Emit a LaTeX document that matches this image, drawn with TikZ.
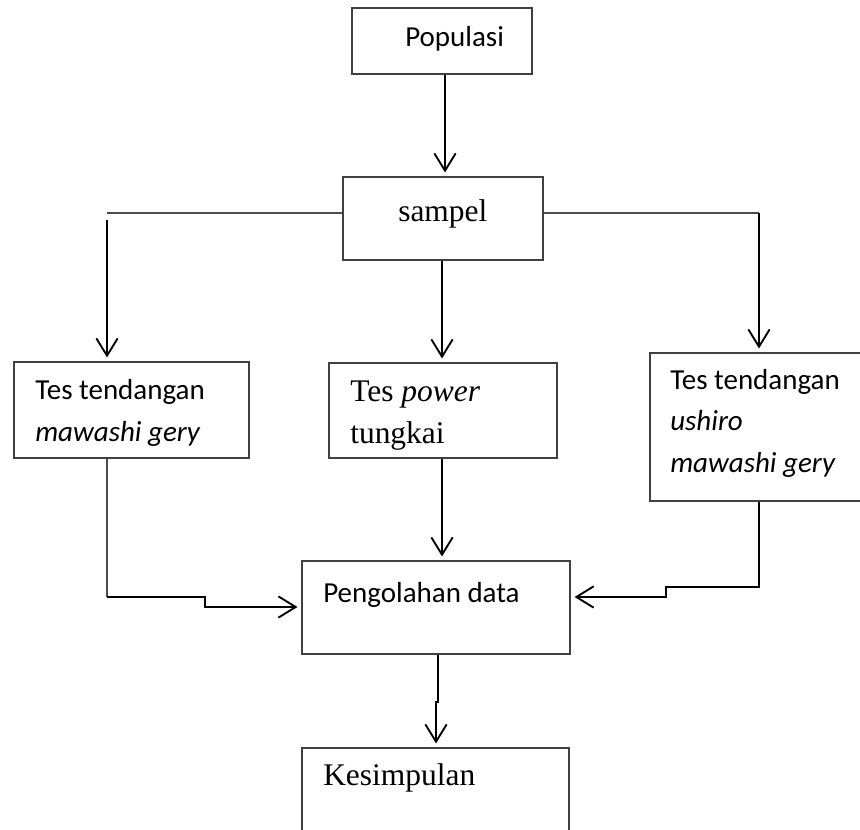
\documentclass[tikz,border=0pt]{standalone}
\usepackage{fontspec}
\setmainfont{Liberation Serif}
\newfontfamily\calibri{Carlito}
\usetikzlibrary{arrows.meta,fit}
\begin{document}
\begin{tikzpicture}[x=0.75pt,y=-0.75pt,
  box/.style={draw=black!75,line width=0.8pt,inner sep=0pt},
  sanstxt/.style={font=\calibri\fontsize{21.75pt}{30.8pt}\selectfont,anchor=base west,inner sep=0pt},
  seriftxt/.style={font=\fontsize{23.6pt}{30.8pt}\selectfont,anchor=base west,inner sep=0pt},
  arr/.style={line width=1.4pt,-{Straight Barb[length=13pt,width=16pt,line width=1.4pt]},shorten >=3pt},
  thinln/.style={draw=black!70,line width=0.8pt},
  thickln/.style={line width=1.4pt}]
\useasboundingbox (0,0) rectangle (860,830);
\clip (0,0) rectangle (860,830);
% boxes
\node[box,fit={(352,8) (532,74)}] (pop) {};
\node[box,fit={(343,177) (543,260)}] (samp) {};
\node[box,fit={(14,362) (249,458)}] (left) {};
\node[box,fit={(329,363) (557,458)}] (mid) {};
\node[box,fit={(650,353) (890,501)}] (right) {};
\node[box,fit={(302,561) (570,654)}] (peng) {};
\node[box,fit={(302,748) (569,860)}] (kes) {};
% texts
\node[sanstxt] (tpop) at (405,47) {Populasi};
\node[seriftxt] (tsamp) at (398,222) {sampel};
\node[sanstxt] (tl1) at (35,400) {Tes tendangan};
\node[sanstxt] (tl2) at (35,441) {\itshape mawashi gery};
\node[seriftxt] (tm1) at (350,402) {Tes \textit{power}};
\node[seriftxt] (tm2) at (350,443) {tungkai};
\node[sanstxt] (tr1) at (670,390) {Tes tendangan};
\node[sanstxt] (tr2) at (670,431) {\itshape ushiro};
\node[sanstxt] (tr3) at (670,472) {\itshape mawashi gery};
\node[sanstxt] (tpeng) at (323,602) {Pengolahan data};
\node[seriftxt] (tkes) at (323,785) {Kesimpulan};
% connectors
\coordinate (pa) at (445,0);
\coordinate (ma) at (442,0);
\draw[arr] (pop.south -| pa) -- (samp.north -| pa);
\coordinate (bl) at (107,213);
\coordinate (blt) at (107,220);
\coordinate (br) at (759,213);
\draw[thinln] (samp.west |- bl) -- (bl);
\draw[thinln] (samp.east |- br) -- (br);
\draw[arr] (blt) -- (blt |- left.north);
\draw[arr] (br) -- (br |- right.north);
\draw[arr] (samp.south -| ma) -- (mid.north -| ma);
\draw[arr] (mid.south -| ma) -- (peng.north -| ma);
% left to pengolahan
\coordinate (lb) at (107,597);
\coordinate (lc) at (205,607);
\draw[thinln] (left.south -| lb) -- (lb);
\draw[arr] (lb) -- (lb -| lc) -- (lc) -- (peng.west |- lc);
% right to pengolahan
\coordinate (rb) at (759,587);
\coordinate (rc) at (666,597);
\draw[arr] (right.south -| rb) -- (rb) -- (rb -| rc) -- (rc) -- (peng.east |- rc);
% pengolahan to kesimpulan
\coordinate (pk) at (438,702);
\coordinate (pk2) at (436,702);
\draw[arr] (peng.south -| pk) -- (pk) -- (pk2) -- (kes.north -| pk2);
\end{tikzpicture}
\end{document}
